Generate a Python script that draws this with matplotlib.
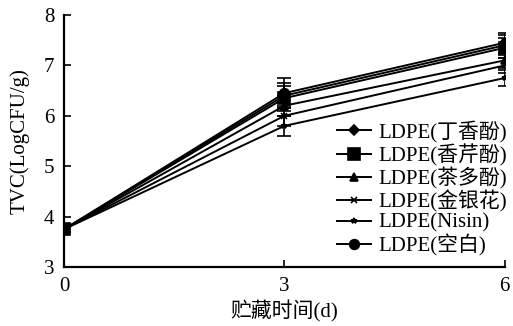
import matplotlib
matplotlib.use("Agg")
import matplotlib.pyplot as plt
from matplotlib.lines import Line2D

plt.rcParams['font.family'] = ['Liberation Serif', 'Noto Sans CJK SC']

# storage days and total viable count (log CFU/g) per packaging
days = [0, 3, 6]
labels = ['LDPE(丁香酚)', 'LDPE(香芹酚)', 'LDPE(茶多酚)',
          'LDPE(金银花)', 'LDPE(Nisin)', 'LDPE(空白)']
clove = [3.75, 6.40, 7.40]
carvacrol = [3.75, 6.35, 7.35]
tea = [3.75, 6.20, 7.10]
honeysuckle = [3.75, 6.00, 7.00]
nisin = [3.75, 5.80, 6.75]
blank = [3.75, 6.45, 7.45]
series = [clove, carvacrol, tea, honeysuckle, nisin, blank]
errors = [
    [0.05, 0.25, 0.20],
    [0.05, 0.25, 0.20],
    [0.05, 0.20, 0.15],
    [0.05, 0.20, 0.15],
    [0.05, 0.20, 0.15],
    [0.05, 0.30, 0.20],
]
markers = ['D', 's', '^', 'x', '*', 'o']
sizes = [5, 8, 6, 5, 4, 7]

fig = plt.figure(figsize=(5.13, 3.26), dpi=100)
ax = fig.add_axes([0.125, 0.181, 0.859, 0.773])

handles = []
for vals, err, lab, m, ms in zip(series, errors, labels, markers, sizes):
    ax.errorbar(days, vals, yerr=err, color='black', lw=1.4, marker=m,
                ms=ms, mew=1.2, capsize=5, elinewidth=1.2, capthick=1.2)
    # legend entry: plain line with marker, no error bar
    handles.append(Line2D([], [], color='black', lw=1.4, marker=m,
                          ms=ms, mew=1.2, label=lab))

ax.set_xlim(0, 6)
ax.set_ylim(3, 8)
ax.set_xticks([0, 3, 6])
ax.set_yticks([3, 4, 5, 6, 7, 8])
ax.tick_params(direction='in', labelsize=15, length=5, width=1.2, pad=7)
ax.spines['top'].set_visible(False)
ax.spines['right'].set_visible(False)
for s in ['left', 'bottom']:
    ax.spines[s].set_linewidth(1.6)
ax.set_xlabel('贮藏时间(d)', fontsize=15, labelpad=3)
ax.set_ylabel('TVC(LogCFU/g)', fontsize=15, labelpad=10)

ax.legend(handles=handles, loc='lower right', bbox_to_anchor=(1.025, 0.01),
          frameon=False, fontsize=15, handlelength=1.6,
          handletextpad=0.4, labelspacing=0.05, borderaxespad=0.0)

fig.savefig('out.png', dpi=100)
